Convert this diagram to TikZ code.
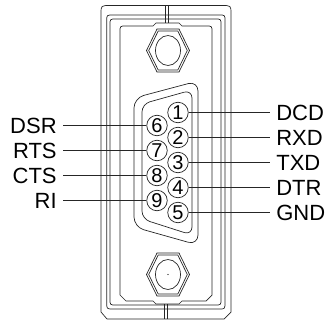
\documentclass[tikz,border=0pt]{standalone}
\usepackage{fontspec}
\setmainfont{Liberation Sans}
\usetikzlibrary{positioning}

\begin{document}
\begin{tikzpicture}[x=1pt,y=-1pt,line width=0.7pt,draw=black!85,
    pin/.style={draw,circle,fill=white,inner sep=0pt,minimum size=20.5pt,font=\fontsize{20}{20}\selectfont},
    sig/.style={inner sep=0pt,font=\fontsize{22}{22}\selectfont}]
    \useasboundingbox (0,0) rectangle (330,322);
    % housing
    \draw (107,319) -- (101,312) -- (101,14) .. controls (101,5.5) .. (110,5.5) -- (222,5.5) .. controls (231,5.5) .. (231,14) -- (231,312) -- (224,319) -- cycle;
    \draw (106.7,302) .. controls (106.7,309) .. (113,309) -- (219,309) .. controls (225,309) .. (225,302) -- (225,21) .. controls (225,15) .. (219,15) -- (113,15) .. controls (106.7,15) .. (106.7,21) -- cycle;
    \draw (110,299) .. controls (110,305) .. (116,305) -- (215,305) .. controls (221,305) .. (221,299) -- (221,25) .. controls (221,19) .. (215,19) -- (116,19) .. controls (110,19) .. (110,25) -- cycle;
    \draw (120,295) -- (120,32) .. controls (120,26) .. (126,26) -- (153,26) -- (156,23) -- (179,23) -- (182,26) -- (206,26) .. controls (212,26) .. (212,32) -- (212,295) -- (206,301) -- (182,301) -- (179,304) -- (156,304) -- (153,301) -- (126,301) -- cycle;
    \draw (165,5.5) -- (165,23) (168,5.5) -- (168,23);
    \draw (164.5,304) -- (164.5,319) (167.5,304) -- (167.5,319);
    % nuts
    \draw[shift={(168,50.5)}] (-11,-21.5) -- (11,-21.5) -- (21.5,0) -- (11,21.5) -- (-11,21.5) -- (-21.5,0) -- cycle;
    \draw[shift={(168,50.5)}] (-9.8,-19.5) -- (9.8,-19.5) -- (19.3,0) -- (9.8,19.5) -- (-9.8,19.5) -- (-19.3,0) -- cycle;
    \draw (168,50.5) ellipse [x radius=12.5,y radius=15];
    \draw[shift={(168,274.5)}] (-11,-21.5) -- (11,-21.5) -- (21.5,0) -- (11,21.5) -- (-11,21.5) -- (-21.5,0) -- cycle;
    \draw[shift={(168,274.5)}] (-9.8,-19.5) -- (9.8,-19.5) -- (19.3,0) -- (9.8,19.5) -- (-9.8,19.5) -- (-19.3,0) -- cycle;
    \draw (168,274.5) ellipse [x radius=12.5,y radius=15];
    \fill (168,274.5) circle [radius=0.6];
    % D-sub shell
    \draw[rounded corners=10] (134,98) -- (198,81) -- (198,245) -- (134,227) -- cycle;
    \draw[rounded corners=8] (142,104) -- (192,90) -- (192,235) -- (142,219) -- cycle;
    % pins
    \node [pin] (p1) at (178,112.5) {1};
    \node [pin] (p2) at (178,137.5) {2};
    \node [pin] (p3) at (178,162.5) {3};
    \node [pin] (p4) at (178,187.5) {4};
    \node [pin] (p5) at (178,212.5) {5};
    \node [pin] (p6) at (157,125.5) {6};
    \node [pin] (p7) at (157,150.5) {7};
    \node [pin] (p8) at (157,175.5) {8};
    \node [pin] (p9) at (157,200.5) {9};
    % signal names
    \node [sig,anchor=west] (dcd) at (276,112.5) {DCD};
    \node [sig,anchor=west] (rxd) at (276,137.5) {RXD};
    \node [sig,anchor=west] (txd) at (276,162.5) {TXD};
    \node [sig,anchor=west] (dtr) at (276,187.5) {DTR};
    \node [sig,anchor=west] (gnd) at (276,212.5) {GND};
    \node [sig,anchor=east] (dsr) at (57,125.5) {DSR};
    \node [sig,anchor=east] (rts) at (57,150.5) {RTS};
    \node [sig,anchor=east] (cts) at (57,175.5) {CTS};
    \node [sig,anchor=east] (ri) at (57,200.5) {RI};
    \draw (p1) -- ([xshift=-6pt]dcd.west);
    \draw (p2) -- ([xshift=-6pt]rxd.west);
    \draw (p3) -- ([xshift=-6pt]txd.west);
    \draw (p4) -- ([xshift=-6pt]dtr.west);
    \draw (p5) -- ([xshift=-6pt]gnd.west);
    \draw ([xshift=6pt]dsr.east) -- (p6);
    \draw ([xshift=6pt]rts.east) -- (p7);
    \draw ([xshift=6pt]cts.east) -- (p8);
    \draw ([xshift=6pt]ri.east) -- (p9);
\end{tikzpicture}
\end{document}
